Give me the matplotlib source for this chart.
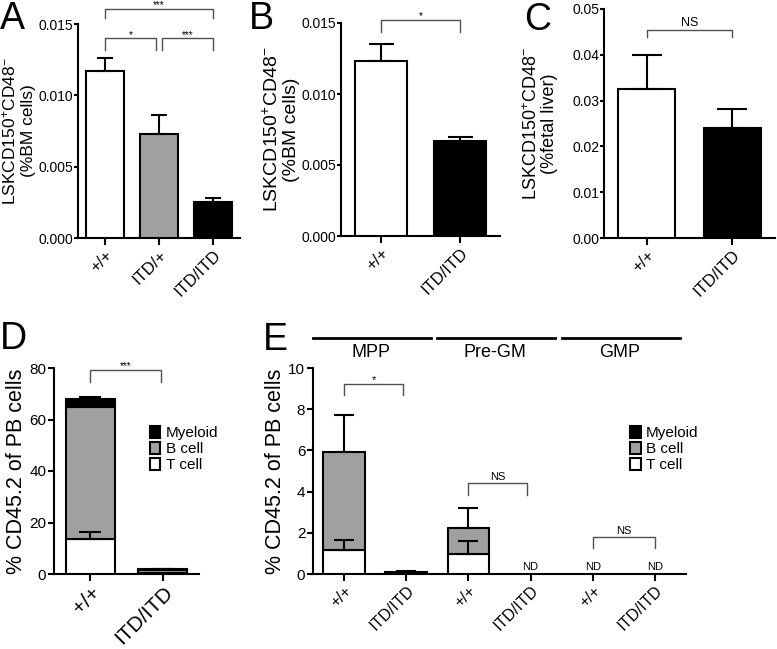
import matplotlib
matplotlib.use('Agg')
import matplotlib.pyplot as plt
from matplotlib.patches import Patch
import numpy as np

plt.rcParams['font.family'] = ['Liberation Sans', 'DejaVu Sans']
plt.rcParams['mathtext.fontset'] = 'custom'
plt.rcParams['mathtext.rm'] = 'Liberation Sans'
plt.rcParams['mathtext.it'] = 'Liberation Sans:italic'
plt.rcParams['mathtext.bf'] = 'Liberation Sans:bold'

# ---- data ----
a_groups = ['+/+', 'ITD/+', 'ITD/ITD']
a_means = [0.0117, 0.0073, 0.0025]
a_sem = [0.0009, 0.0013, 0.0003]

b_groups = ['+/+', 'ITD/ITD']
b_means = [0.0123, 0.0067]
b_sem = [0.0012, 0.0003]

c_groups = ['+/+', 'ITD/ITD']
c_means = [0.0325, 0.0240]
c_sem = [0.0075, 0.0041]

d_groups = ['+/+', 'ITD/ITD']
d_tcell = [13.5, 0.5]
d_bcell = [51.5, 0.9]
d_myeloid = [2.8, 0.4]
d_tcell_sem = [2.8, 0.0]
d_total_sem = [1.0, 0.3]

e_groups = ['+/+', 'ITD/ITD', '+/+', 'ITD/ITD', '+/+', 'ITD/ITD']
e_populations = ['MPP', 'Pre-GM', 'GMP']
e_tcell = [1.15, 0.0, 0.95, 0.0, 0.0, 0.0]
e_bcell = [4.75, 0.12, 1.3, 0.0, 0.0, 0.0]
e_myeloid = [0.0, 0.0, 0.0, 0.0, 0.0, 0.0]
e_tcell_sem = [0.5, 0.0, 0.65, 0.0, 0.0, 0.0]
e_total_sem = [1.8, 0.03, 0.95, 0.0, 0.0, 0.0]
e_not_detected = [3, 4, 5]

# significance brackets: (x1, x2, y, drop, label)
a_sig = [(0, 0.95, 0.0140, 0.0008, '*'), (1.05, 2, 0.0140, 0.0008, '***'),
         (0, 2, 0.01605, 0.00065, '***')]
b_sig = [(0, 1, 0.0152, 0.0008, '*')]
c_sig = [(0, 1, 0.0454, 0.0015, 'NS')]
d_sig = [(0, 0.97, 79.2, 4.6, '***')]
e_sig = [(0, 0.95, 9.22, 0.53, '*'), (2, 2.95, 4.42, 0.59, 'NS'),
         (4, 5, 1.80, 0.54, 'NS')]

WHITE, GRAY, BLACK = 'white', '#a0a0a0', 'black'
W, H = 777, 649

fig = plt.figure(figsize=(W / 100, H / 100), dpi=100)


def px_axes(left, top, right, bottom):
    return fig.add_axes([left / W, 1 - bottom / H, (right - left) / W, (bottom - top) / H])


def style(ax, xtick_fs, ytick_fs, ylen=4, ypad=1.5):
    for s in ['top', 'right']:
        ax.spines[s].set_visible(False)
    for s in ['left', 'bottom']:
        ax.spines[s].set_linewidth(1.5)
    ax.tick_params(axis='x', width=1.5, length=5, pad=1.5, labelsize=xtick_fs)
    ax.tick_params(axis='y', width=1.5, length=ylen, pad=ypad, labelsize=ytick_fs)
    for lab in ax.get_xticklabels():
        lab.set_rotation(45)
        lab.set_ha('right')
        lab.set_rotation_mode('anchor')


def bracket(ax, x1, x2, y, drop, label, fs, off=0.0):
    ax.plot([x1, x1, x2, x2], [y - drop, y, y, y - drop], color='#505050', lw=1, clip_on=False)
    ax.annotate(label, xy=((x1 + x2) / 2, y), xytext=(0, off), textcoords='offset points',
                ha='center', va='bottom', fontsize=fs, annotation_clip=False)


def upper_err(ax, x, top, err, capsize):
    x = np.asarray(x, float)
    top = np.asarray(top, float)
    err = np.asarray(err, float)
    m = err > 0
    if m.any():
        ax.errorbar(x[m], top[m], yerr=[np.zeros(m.sum()), err[m]], fmt='none',
                    ecolor='black', elinewidth=1.5, capsize=capsize, capthick=1.5, zorder=4)


def simple_panel(ax, groups, means, sem, colors, width, capsize, ylim, yticks, yfmt,
                 sig, sig_fs, sig_off, ylabel, ylabel_fs, ylabel_x, lsp):
    x = np.arange(len(groups))
    ax.bar(x, means, width=width, color=colors, edgecolor='black', linewidth=1.5, zorder=3)
    upper_err(ax, x, means, sem, capsize)
    ax.set_xlim(-0.5, len(groups) - 0.5)
    ax.set_ylim(*ylim)
    ax.set_yticks(yticks)
    ax.set_yticklabels([yfmt % v for v in yticks])
    ax.set_xticks(x)
    ax.set_xticklabels(groups)
    style(ax, 12, 10, ylen=3, ypad=0.5)
    for s in sig:
        bracket(ax, *s, fs=sig_fs, off=sig_off)
    ax.set_ylabel(ylabel, fontsize=ylabel_fs, linespacing=lsp)
    ax.yaxis.set_label_coords(ylabel_x, 0.5)


ylab_bm = 'LSKCD150$^{+}$CD48$^{-}$\n(%BM cells)'
ylab_fl = 'LSKCD150$^{+}$CD48$^{-}$\n(%fetal liver)'

axA = px_axes(78, 24, 240, 238)
simple_panel(axA, a_groups, a_means, a_sem, [WHITE, GRAY, BLACK], 0.69, 5.5,
             (0, 0.015), [0, 0.005, 0.010, 0.015], '%.3f', a_sig, 7, -1.0,
             ylab_bm, 12.5, -0.262, 1.15)

axB = px_axes(341, 23, 500, 236)
simple_panel(axB, b_groups, b_means, b_sem, [WHITE, BLACK], 0.66, 9,
             (0, 0.015), [0, 0.005, 0.010, 0.015], '%.3f', b_sig, 7, -1.0,
             ylab_bm, 14, -0.255, 1.1)

axC = px_axes(604, 9, 775, 238)
simple_panel(axC, c_groups, c_means, c_sem, [WHITE, BLACK], 0.67, 11,
             (0, 0.05), [0, 0.01, 0.02, 0.03, 0.04, 0.05], '%.2f', c_sig, 9, 1.0,
             ylab_fl, 13, -0.27, 1.0)


def stacked_panel(ax, groups, tcell, bcell, myeloid, tsem, totsem, width, capsize):
    x = np.arange(len(groups))
    t = np.asarray(tcell)
    b = np.asarray(bcell)
    my = np.asarray(myeloid)
    for vals, bottom, col in [(t, 0, WHITE), (b, t, GRAY), (my, t + b, BLACK)]:
        bottom = np.broadcast_to(bottom, x.shape)
        m = vals > 0
        ax.bar(x[m], vals[m], bottom=bottom[m], width=width, color=col,
               edgecolor='black', linewidth=1.5, zorder=3)
    upper_err(ax, x, t, tsem, capsize)
    upper_err(ax, x, t + b + my, totsem, capsize)
    ax.set_xlim(-0.5, len(groups) - 0.5)
    ax.set_xticks(x)
    ax.set_xticklabels(groups)


def cell_legend(ax, anchor):
    handles = [Patch(facecolor=c, edgecolor='black', linewidth=1.5) for c in (BLACK, GRAY, WHITE)]
    ax.legend(handles, ['Myeloid', 'B cell', 'T cell'], loc='upper left', bbox_to_anchor=anchor,
              frameon=False, fontsize=11, handlelength=0.7, handleheight=0.85,
              handletextpad=0.35, labelspacing=0.12, borderpad=0, borderaxespad=0)


axD = px_axes(54, 368, 199, 574)
stacked_panel(axD, d_groups, d_tcell, d_bcell, d_myeloid, d_tcell_sem, d_total_sem, 0.67, 8)
axD.set_ylim(0, 80)
axD.set_yticks([0, 20, 40, 60, 80])
style(axD, 15, 11)
for s in d_sig:
    bracket(axD, *s, fs=7, off=-1.0)
axD.set_ylabel('% CD45.2 of PB cells', fontsize=15.5, labelpad=2)
cell_legend(axD, (0.66, 0.72))

axE = px_axes(313, 368, 686, 574)
stacked_panel(axE, e_groups, e_tcell, e_bcell, e_myeloid, e_tcell_sem, e_total_sem, 0.67, 7.5)
axE.set_ylim(0, 10)
axE.set_yticks([0, 2, 4, 6, 8, 10])
style(axE, 11.5, 11)
for s in e_sig:
    bracket(axE, *s, fs=8, off=-1.0 if s[4] == '*' else 1.0)
for i in e_not_detected:
    axE.text(i, 0.12, 'ND', ha='center', va='bottom', fontsize=8)
for g, name in enumerate(e_populations):
    c = 2 * g + 0.45
    axE.plot([c - 0.95, c + 0.95], [11.46, 11.46], color='black', lw=2, clip_on=False)
    axE.text(c - 0.02, 10.75, name, ha='center', va='center', fontsize=13)
axE.set_ylabel('% CD45.2 of PB cells', fontsize=15.5, labelpad=2)
cell_legend(axE, (0.85, 0.72))

# panel letters
for letter, px, py in [('A', 0, 1), ('B', 249, 1), ('C', 524, 2), ('D', 0, 321), ('E', 263, 322)]:
    fig.text(px / W, 1 - py / H, letter, fontsize=27, ha='left', va='top')

fig.savefig('out.png', dpi=100)
